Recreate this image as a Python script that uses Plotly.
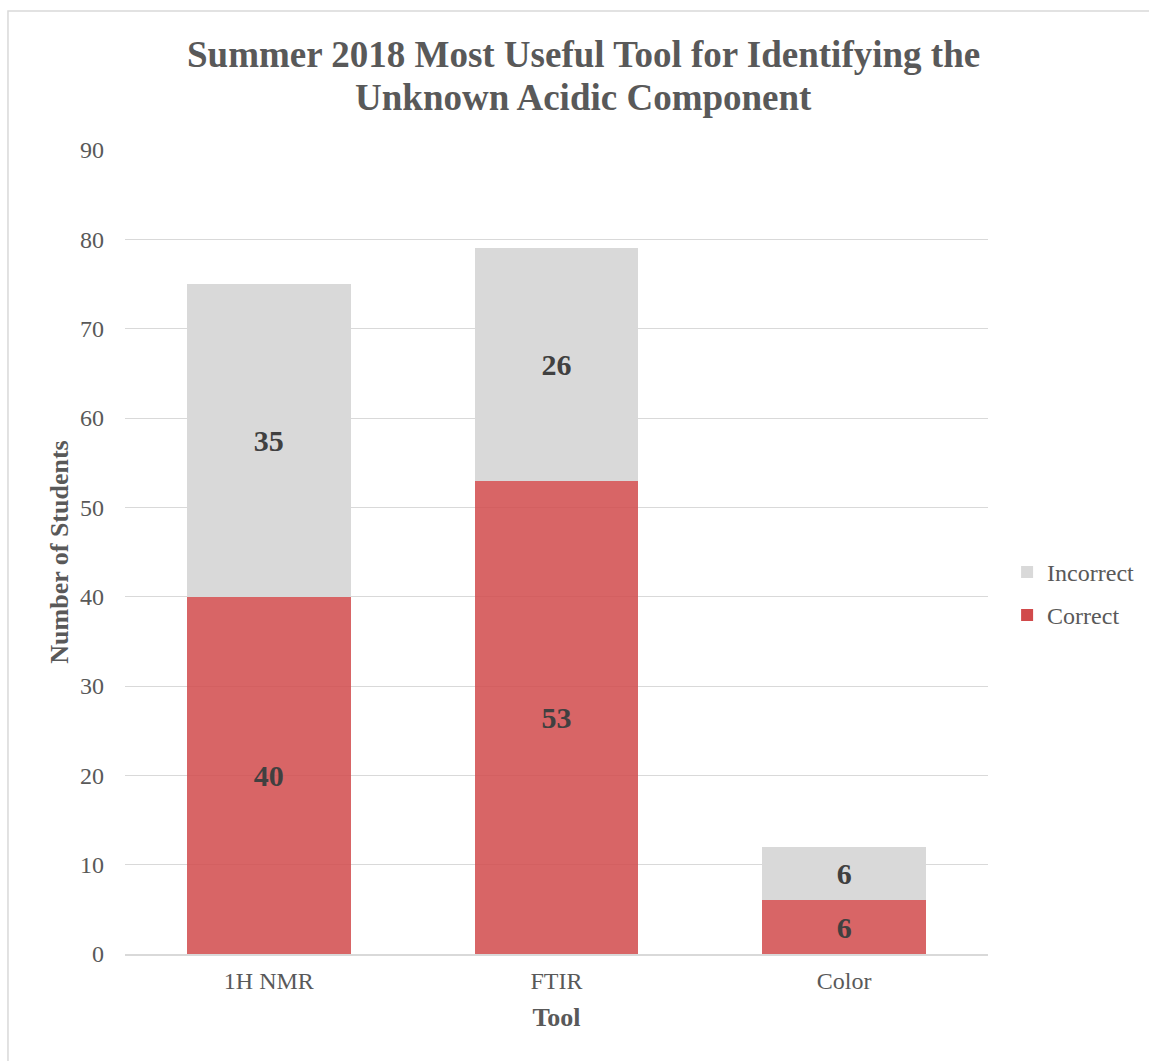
import plotly.graph_objects as go

# Student responses per identification tool
tools = ["1H NMR", "FTIR", "Color"]
correct = [40, 53, 6]
incorrect = [35, 26, 6]

SERIF = "Liberation Serif, Times New Roman, serif"
TEXT_GRAY = "#595959"
LABEL_DARK = "#404040"

label_font = dict(family=SERIF, size=30, color=LABEL_DARK, weight="bold")

fig = go.Figure()

fig.add_trace(go.Bar(
    name="Correct", x=tools, y=correct, legendgroup="correct", legendrank=2,
    marker=dict(color="rgb(209,74,75)", opacity=0.85, line=dict(width=0)),
    text=[str(v) for v in correct], textposition="inside",
    insidetextanchor="middle", constraintext="none", textfont=label_font,
    width=0.57,
))
fig.add_trace(go.Bar(
    name="Incorrect", x=tools, y=incorrect, legendgroup="incorrect", legendrank=1,
    marker=dict(color="#D9D9D9", line=dict(width=0)),
    text=[str(v) for v in incorrect], textposition="inside",
    insidetextanchor="middle", constraintext="none", textfont=label_font,
    width=0.57,
))

# Two-line chart title
title_lines = ["Summer 2018 Most Useful Tool for Identifying the", "Unknown Acidic Component"]
title_font = dict(family=SERIF, size=37, color=TEXT_GRAY, weight="bold")
annotations = [
    dict(text=title_lines[0], xref="paper", yref="paper", x=0.5315, y=1.1194,
         xanchor="center", yanchor="middle", showarrow=False, font=title_font),
    dict(text=title_lines[1], xref="paper", yref="paper", x=0.5315, y=1.0647,
         xanchor="center", yanchor="middle", showarrow=False, font=title_font),
]

fig.update_layout(
    barmode="stack",
    width=1149, height=1061,
    margin=dict(l=125, r=161, t=150, b=107, autoexpand=False),
    paper_bgcolor="white", plot_bgcolor="white",
    font=dict(family=SERIF, color=TEXT_GRAY, size=24),
    annotations=annotations,
    xaxis=dict(
        title=dict(text="Tool", font=dict(size=26, weight="bold"), standoff=15),
        showgrid=False, showline=True, linecolor="#D9D9D9", linewidth=1.5,
        ticks="", ticklabelstandoff=4, tickfont=dict(size=24, color=TEXT_GRAY),
    ),
    yaxis=dict(
        title=dict(text="Number of Students", font=dict(size=26, weight="bold"), standoff=3),
        range=[0, 90], dtick=10, showgrid=True, gridcolor="#D9D9D9", gridwidth=1.2,
        zeroline=False, showline=False, ticks="", ticklabelstandoff=20,
        tickfont=dict(size=24, color=TEXT_GRAY),
    ),
    legend=dict(
        traceorder="grouped", xref="container", x=0.8765, xanchor="left",
        y=0.448, yanchor="middle",
        font=dict(size=24, color=TEXT_GRAY), itemsizing="constant",
        tracegroupgap=9,
    ),
    showlegend=True,
    shapes=[dict(
        type="rect", xref="paper", yref="paper",
        x0=-0.1356, x1=1.3, y0=-0.2, y1=1.1729,
        line=dict(color="#D9D9D9", width=1.5), fillcolor="rgba(0,0,0,0)", layer="below",
    )],
)

fig.write_html("out.html")
